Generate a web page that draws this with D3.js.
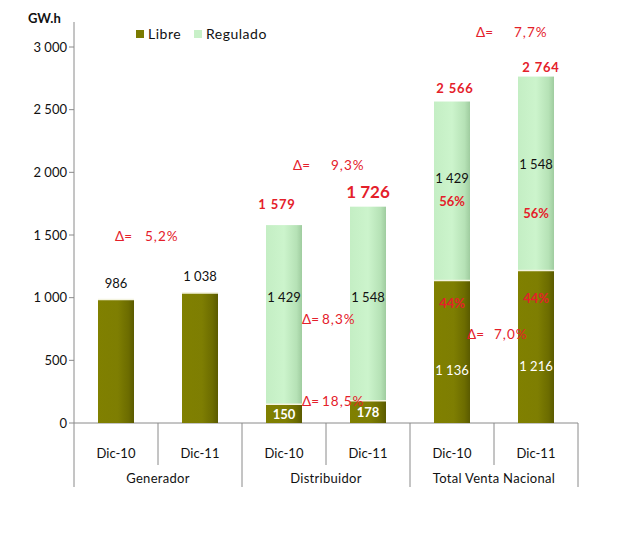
<!DOCTYPE html>
<html><head><meta charset="utf-8">
<script src="https://cdn.jsdelivr.net/npm/d3@7"></script>
<style>
body{margin:0;background:#fff;}
svg{font-family:Lato,"Open Sans",sans-serif;}
</style></head>
<body><svg id="c" width="629" height="535"></svg>
<script>
// ---- data ----
const groups = ["Generador","Distribuidor","Total Venta Nacional"];
const periods = ["Dic-10","Dic-11"];
const libre    = [986, 1038, 150, 178, 1136, 1216];
const regulado = [0, 0, 1429, 1548, 1429, 1548];
const totals   = [null, null, 1579, 1726, 2566, 2764];
const libreLabels = ["986","1 038","150","178","1 136","1 216"];
const reguladoLabels = ["","","1 429","1 548","1 429","1 548"];
const totalLabels = ["","","1 579","1 726","2 566","2 764"];
const shareLibre = ["","","","","44%","44%"];
const shareRegulado = ["","","","","56%","56%"];
const yTicks = [0,500,1000,1500,2000,2500,3000];
const yTickLabels = ["0","500","1 000","1 500","2 000","2 500","3 000"];
const deltas = [
  {slot:0, v:1490, txt:"5,2%", dx:-43, gap:30},
  {slot:2, v:2060, txt:"9,3%", dx:-33, gap:38},
  {slot:2, v:825,  txt:"8,3%", dx:-24, gap:20},
  {slot:2, v:175,  txt:"18,5%", dx:-24, gap:20},
  {slot:4, v:3120, txt:"7,7%", dx:-18, gap:38},
  {slot:4, v:705,  txt:"7,0%", dx:-27, gap:27}
];

const svg = d3.select("#c");
const keys = d3.range(6);
const x = d3.scaleBand().domain(keys).range([74,578]).padding(0);
const y = d3.scaleLinear().domain([0,3000]).range([423,47]);
const bw = 36;
const red = "#e4202a";

// gradients
const defs = svg.append("defs");
function grad(id, stops){
  const g = defs.append("linearGradient").attr("id",id).attr("x1","0").attr("x2","1").attr("y1","0").attr("y2","0");
  stops.forEach(s=>g.append("stop").attr("offset",s[0]).attr("stop-color",s[1]));
}
grad("gL",[[0,"#808000"],[0.55,"#7e7e02"],[0.85,"#6c6c00"],[1,"#5a5a00"]]);
grad("gR",[[0,"#c4eec4"],[0.5,"#ccf4cc"],[0.85,"#b6e2b6"],[1,"#9fcc9f"]]);

// y axis
svg.append("line").attr("x1",74).attr("x2",74).attr("y1",y(3000)-25).attr("y2",y(0)).attr("stroke","#8a8a8a");
const yt = svg.append("g");
yTicks.forEach((t,i)=>{
  yt.append("line").attr("x1",69).attr("x2",74).attr("y1",y(t)).attr("y2",y(t)).attr("stroke","#8a8a8a");
  yt.append("text").attr("x",67).attr("y",y(t)).attr("dy","0.35em").attr("text-anchor","end")
    .attr("font-size",13).attr("fill","#111").text(yTickLabels[i]);
});
svg.append("text").attr("x",28).attr("y",23).attr("font-size",13).attr("font-weight","bold").attr("fill","#111").text("GW.h");

// category axis
svg.append("line").attr("x1",74).attr("x2",578).attr("y1",y(0)).attr("y2",y(0)).attr("stroke","#8a8a8a");
keys.forEach(k=>{
  const xs = x(k);
  const isGroupEdge = k%2===0;
  svg.append("line").attr("x1",xs).attr("x2",xs).attr("y1",y(0)).attr("y2",isGroupEdge?487:465).attr("stroke","#8a8a8a");
  svg.append("text").attr("x",xs+x.bandwidth()/2).attr("y",453).attr("dy","0.35em").attr("text-anchor","middle")
    .attr("font-size",13).attr("fill","#111").text(periods[k%2]);
});
svg.append("line").attr("x1",578).attr("x2",578).attr("y1",y(0)).attr("y2",487).attr("stroke","#8a8a8a");
groups.forEach((g,i)=>{
  svg.append("text").attr("x",x(i*2)+x.bandwidth()).attr("y",478).attr("dy","0.35em").attr("text-anchor","middle")
    .attr("font-size",13).attr("fill","#111").attr("letter-spacing","0.3").text(g);
});

// bars
const cx = k => x(k)+x.bandwidth()/2;
keys.forEach(k=>{
  svg.append("rect").attr("x",cx(k)-bw/2).attr("width",bw).attr("y",y(libre[k])).attr("height",y(0)-y(libre[k]))
    .attr("fill","url(#gL)");
  if(regulado[k]>0){
    svg.append("rect").attr("x",cx(k)-bw/2).attr("width",bw).attr("y",y(libre[k]+regulado[k])).attr("height",y(libre[k])-y(libre[k]+regulado[k]))
      .attr("fill","url(#gR)");
  }
  svg.append("line").attr("x1",cx(k)-bw/2).attr("x2",cx(k)+bw/2).attr("y1",y(libre[k])).attr("y2",y(libre[k]))
    .attr("stroke","#f4f4e0").attr("stroke-width",1.5);
});

// value labels
keys.forEach(k=>{
  if(regulado[k]===0){
    svg.append("text").attr("x",cx(k)).attr("y",y(libre[k])-16).attr("dy","0.35em").attr("text-anchor","middle")
      .attr("font-size",13).attr("fill","#111").text(libreLabels[k]);
  } else {
    const midL = k<4 ? y(libre[k]/2)+1 : y(libre[k]*0.37);
    svg.append("text").attr("x",cx(k)).attr("y",midL).attr("dy","0.35em").attr("text-anchor","middle")
      .attr("font-size",13).attr("fill","#fff").attr("font-weight", k<4?"bold":"normal").text(libreLabels[k]);
  }
});
// regulado labels
const regLabelV = [0,0,1000,1000,1950,2060];
keys.forEach(k=>{
  if(reguladoLabels[k]) svg.append("text").attr("x",cx(k)).attr("y",y(regLabelV[k])).attr("dy","0.35em").attr("text-anchor","middle")
    .attr("font-size",13).attr("fill","#111").text(reguladoLabels[k]);
});
// share labels
const shareRV = [0,0,1765,1670];
const shareLV = [0,0,955,995];
keys.forEach(k=>{
  if(shareRegulado[k]) svg.append("text").attr("x",cx(k)).attr("y",y(shareRV[k-2])).attr("dy","0.35em").attr("text-anchor","middle")
    .attr("font-size",13).attr("font-weight","bold").attr("fill",red).text(shareRegulado[k]);
  if(shareLibre[k]) svg.append("text").attr("x",cx(k)).attr("y",y(shareLV[k-2])).attr("dy","0.35em").attr("text-anchor","middle")
    .attr("font-size",13).attr("font-weight","bold").attr("fill",red).text(shareLibre[k]);
});
// totals (pixel offsets above bar tops)
const totDy = [0,0,-21,-15,-13,-9];
const totDx = [0,0,-7,0,3,5];
keys.forEach(k=>{
  if(totalLabels[k]) svg.append("text").attr("x",cx(k)+totDx[k]).attr("y",y(totals[k])+totDy[k]).attr("dy","0.35em").attr("text-anchor","middle")
    .attr("font-size",k===3?17:13).attr("font-weight","bold").attr("fill",red).attr("letter-spacing",k===3?0:0.8).text(totalLabels[k]);
});

// deltas
deltas.forEach(d=>{
  const x0 = x(d.slot)+x.bandwidth()+d.dx;
  svg.append("text").attr("x",x0).attr("y",y(d.v)).attr("dy","0.35em").attr("font-size",13.5).attr("fill",red).text("Δ=");
  svg.append("text").attr("x",x0+d.gap).attr("y",y(d.v)).attr("dy","0.35em").attr("font-size",13.5).attr("fill",red).attr("letter-spacing",1).text(d.txt);
});

// legend
const lg = svg.append("g");
lg.append("rect").attr("x",136).attr("y",30).attr("width",8).attr("height",8).attr("fill","#7a7a00");
lg.append("text").attr("x",148).attr("y",34).attr("dy","0.35em").attr("font-size",14).attr("fill","#111").attr("letter-spacing",0.5).text("Libre");
lg.append("rect").attr("x",194).attr("y",30).attr("width",8).attr("height",8).attr("fill","#c8f0c8");
lg.append("text").attr("x",206).attr("y",34).attr("dy","0.35em").attr("font-size",14).attr("fill","#111").attr("letter-spacing",0.5).text("Regulado");
</script></body></html>
